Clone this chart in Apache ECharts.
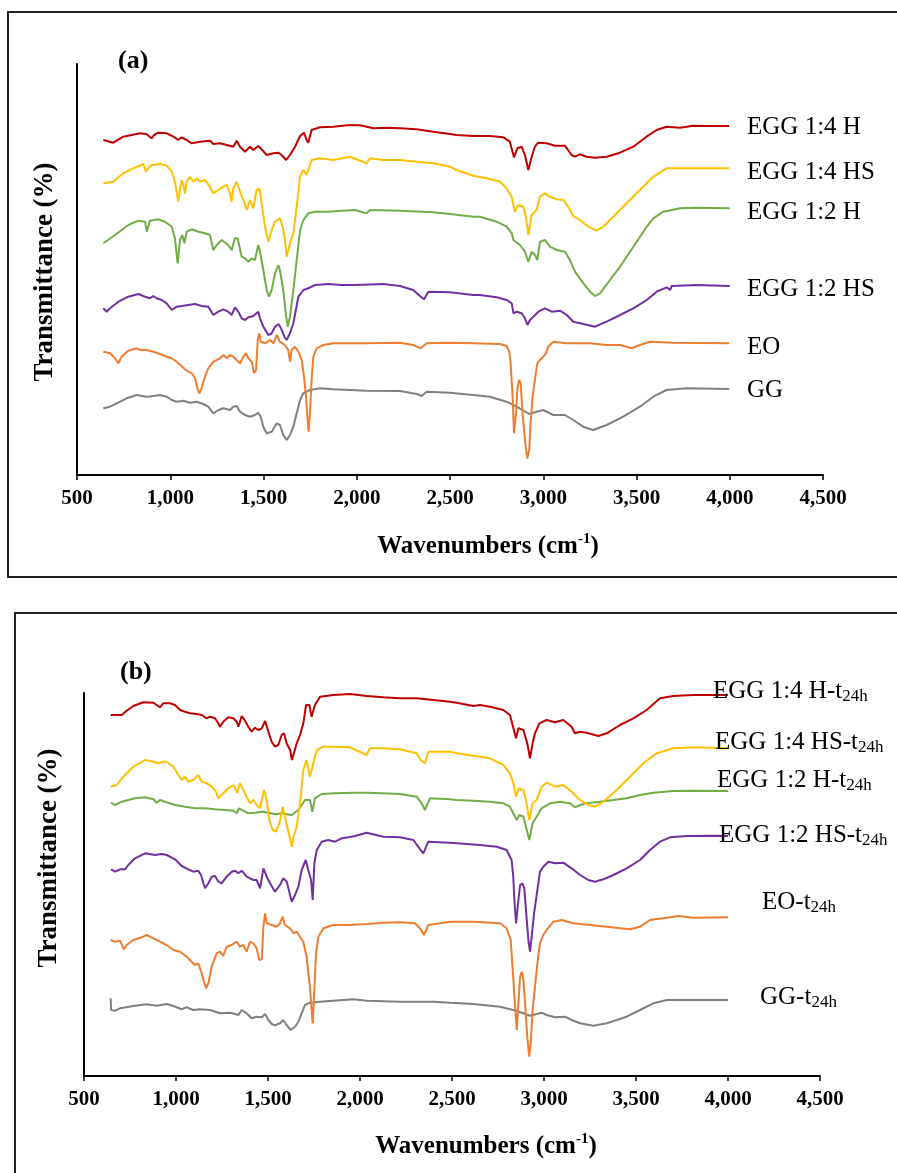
<!DOCTYPE html>
<html><head><meta charset="utf-8">
<script src="https://cdn.jsdelivr.net/npm/echarts@6/dist/echarts.min.js"></script>
<style>html,body{margin:0;padding:0;background:#fff}#c{width:897px;height:1173px}</style>
</head><body><div id="c"></div>
<script>
// ---- axis settings ----
const xMin = 500, xMax = 4500, xStep = 500;
const yMaxA = 411, yMaxB = 383;
const xTitle = 'Wavenumbers (cm';
const xTitleSup = '-1';
const yTitle = 'Transmittance (%)';
const panelTags = ['(a)', '(b)'];

// ---- series names ----
const namesA = ['EGG 1:4 H', 'EGG 1:4 HS', 'EGG 1:2 H', 'EGG 1:2 HS', 'EO', 'GG'];
const namesB = ['EGG 1:4 H-t', 'EGG 1:4 HS-t', 'EGG 1:2 H-t', 'EGG 1:2 HS-t', 'EO-t', 'GG-t'];
const subB = '24h';
const colors = ['#C00000', '#FFC000', '#70AD47', '#7030A0', '#ED7D31', '#808080'];

// ---- panel (a) data: [wavenumber, transmittance (offset, a.u.)] ----
const a_EGG14H = [[641,335],[695,332.3],[748,338.3],[838,341.7],[873,340.7],[900,336.7],[913,340],[936,342.3],[981,341.7],[1017,338.3],[1043,335],[1061,337.7],[1088,335],[1115,331.7],[1160,333.3],[1213,334.3],[1231,331],[1267,331.7],[1303,330],[1338,328.3],[1356,334.3],[1374,328.3],[1401,323.3],[1428,328.3],[1445,325],[1472,329],[1490,325.7],[1517,320],[1553,321.7],[1580,322.3],[1597,320],[1621,315],[1642,320],[1669,328.3],[1696,339],[1717,342.3],[1731,335],[1740,332.3],[1758,345],[1803,347.7],[1874,348.3],[1964,350],[2017,349.7],[2089,346.7],[2160,347.3],[2232,346.7],[2321,345.7],[2411,343.3],[2500,341],[2535,340],[2625,339],[2714,339],[2786,337.7],[2821,333.3],[2843,317.7],[2861,326.7],[2884,328.3],[2902,320],[2920,305],[2938,318.3],[2955,328.3],[2973,332.3],[3018,331.7],[3063,329.3],[3116,329.3],[3152,320],[3170,318.3],[3197,320.7],[3232,318.3],[3277,317.3],[3340,318.3],[3411,322.3],[3483,328.3],[3554,338.3],[3608,345],[3661,348.3],[3733,347.3],[3804,349.3],[3876,349],[3997,349]];
const a_EGG14HS = [[641,291.7],[695,293.3],[748,301.7],[802,306.7],[856,311],[870,303.3],[882,306.7],[900,310],[945,311],[981,309.3],[1008,303.3],[1025,293.3],[1034,283.3],[1043,273.3],[1052,285],[1061,295],[1070,290],[1079,281.7],[1088,293.3],[1106,298.3],[1124,293.3],[1142,296.7],[1160,293.3],[1186,295],[1213,288.3],[1231,281.7],[1258,285],[1285,288.3],[1303,290],[1320,281.7],[1329,273.3],[1338,286.7],[1356,293.3],[1374,283.3],[1392,275],[1410,265],[1428,275],[1445,266.7],[1463,285],[1478,286.7],[1490,271.7],[1508,248.3],[1526,233.3],[1544,245],[1562,253.3],[1588,256.7],[1603,248.3],[1615,235],[1624,218.3],[1642,231.7],[1660,241.7],[1678,268.3],[1696,298.3],[1713,305],[1731,300],[1758,315],[1803,316.7],[1874,315],[1964,318.3],[2053,311.7],[2071,316.7],[2143,315],[2232,315],[2321,313.3],[2411,311.7],[2500,308.3],[2535,305],[2625,299.3],[2696,296.7],[2768,293.3],[2803,286.7],[2830,278.3],[2848,263.3],[2866,270],[2893,268.3],[2907,258.3],[2920,240],[2938,260],[2964,265],[2982,278.3],[3009,281.7],[3036,278.3],[3072,275.7],[3107,275],[3134,268.3],[3161,259],[3197,255],[3241,248.3],[3286,244.3],[3322,248.3],[3375,258.3],[3447,271.7],[3518,285],[3590,298.3],[3661,306.7],[3733,306.7],[3876,306.7],[3997,306.7]];
const a_EGG12H = [[641,231.7],[704,240],[775,250],[829,254.3],[865,253.3],[874,243.3],[891,254.3],[936,255.7],[972,253.3],[1008,248.3],[1025,236.7],[1040,211.7],[1052,235],[1065,240],[1076,231.7],[1088,243.3],[1115,245.7],[1151,243.3],[1186,241.7],[1213,240],[1231,225],[1249,230],[1276,235],[1311,230],[1329,225],[1347,236.7],[1361,236.7],[1383,218.3],[1401,216.7],[1419,213.3],[1437,216.7],[1454,215],[1472,230],[1481,223.3],[1499,205],[1517,185],[1529,178.3],[1544,185],[1562,201.7],[1580,210],[1588,205],[1606,185],[1619,161.7],[1630,148.3],[1642,158.3],[1660,185],[1678,215],[1696,245],[1714,255],[1740,261.7],[1776,263.3],[1848,263.3],[1919,264.3],[1991,265],[2053,261.7],[2071,265],[2232,264.3],[2411,262.7],[2500,261],[2625,258.3],[2661,258.3],[2750,253.3],[2804,248.3],[2831,241.7],[2840,235],[2875,230],[2902,223.3],[2920,213.3],[2938,223.3],[2956,220],[2968,215],[2983,233.3],[3009,235],[3036,228.3],[3072,225],[3117,223.3],[3143,215],[3170,203.3],[3215,191.7],[3251,183.3],[3278,179],[3304,181.7],[3358,195],[3412,208.3],[3465,223.3],[3519,238.3],[3555,248.3],[3590,256.7],[3644,263.3],[3733,266.7],[3823,267.3],[4000,266.7]];
const a_EGG12HS = [[641,166.7],[659,163.3],[677,166.7],[722,173.3],[775,178.3],[829,181],[865,178.3],[891,176.7],[909,179],[927,176.7],[954,175],[981,171.7],[1008,165],[1034,168.3],[1061,169],[1097,170],[1133,171],[1168,169],[1204,168.3],[1231,160],[1258,163.3],[1285,165.7],[1311,163.3],[1329,160],[1347,167.7],[1365,163.3],[1383,156.7],[1401,155],[1419,157.7],[1445,159],[1472,163.3],[1481,156.7],[1499,148.3],[1526,140],[1544,141.7],[1562,148.3],[1580,151],[1594,146.7],[1612,138.3],[1624,135],[1642,141.7],[1660,151.7],[1687,178.3],[1714,185],[1740,186.7],[1776,190],[1848,191],[1919,190],[1991,190],[2143,191],[2232,189],[2303,185],[2343,178.3],[2361,175.7],[2384,183.3],[2500,182.7],[2625,180],[2661,180],[2750,177.7],[2804,175],[2831,171.7],[2840,161.7],[2858,163.3],[2884,161.7],[2902,156.7],[2915,150],[2929,155],[2947,158.3],[2974,163.3],[3009,166.7],[3045,163.3],[3090,164.3],[3126,160],[3161,153.3],[3215,151],[3278,148.3],[3340,153.3],[3412,160],[3483,166.7],[3555,175],[3608,183.3],[3662,187.7],[3680,185],[3689,189],[3823,190],[4000,189]];
const a_EO = [[641,123.3],[677,121.7],[704,116.7],[722,111.7],[739,118.3],[775,124.3],[820,126.7],[838,125],[873,125],[909,123.3],[945,121],[981,118.3],[1008,116.7],[1034,113.3],[1061,109],[1079,105.7],[1097,103.3],[1115,101.7],[1133,96.7],[1145,86.7],[1156,81.7],[1168,86.7],[1186,98.3],[1204,106.7],[1231,113.3],[1267,116.7],[1285,120],[1303,116.7],[1320,120],[1338,118.3],[1356,115],[1374,111.7],[1392,118.3],[1406,121.7],[1419,116.7],[1437,113.3],[1449,101.7],[1460,105],[1469,135],[1478,141.7],[1485,133.3],[1508,131.7],[1535,135],[1553,131.7],[1571,140],[1588,133.3],[1615,130],[1633,125],[1642,113.3],[1651,125],[1669,128.3],[1687,123.3],[1705,115],[1717,98.3],[1728,78.3],[1735,58.3],[1742,43.3],[1749,61.7],[1758,95],[1767,118.3],[1785,126.7],[1821,130],[1874,131.7],[2053,131.7],[2232,132.3],[2303,130],[2343,126.7],[2375,131.7],[2500,132.3],[2625,131.7],[2768,131],[2803,129],[2818,123.3],[2825,111.7],[2836,78.3],[2843,41.7],[2854,61.7],[2861,85],[2870,95],[2879,91.7],[2889,61.7],[2902,35],[2914,16.7],[2925,25],[2932,51.7],[2943,78.3],[2955,95],[2968,111.7],[2982,115],[3000,118.3],[3014,121.7],[3027,128.3],[3054,133.3],[3125,131.7],[3250,131.7],[3340,130],[3411,130],[3474,126.7],[3518,130],[3572,133.3],[3697,132.3],[3997,131.7]];
const a_GG = [[641,66.7],[677,68.3],[713,71.7],[766,76.7],[820,80],[873,78.3],[909,79],[945,80],[981,78.3],[1008,75],[1034,73.3],[1070,74.3],[1106,72.3],[1142,73.3],[1177,71],[1204,68.3],[1231,61.7],[1258,65],[1285,66.7],[1320,65],[1338,68.3],[1356,69],[1374,63.3],[1401,60],[1428,58.3],[1454,60],[1472,62.3],[1485,58.3],[1499,48.3],[1517,41.7],[1544,43.3],[1571,51.7],[1588,50],[1606,40],[1624,35],[1642,40],[1660,48.3],[1678,61.7],[1696,75],[1713,81.7],[1749,85],[1803,86.7],[1874,85.7],[2053,84.3],[2232,84],[2321,81],[2348,79],[2375,83.3],[2500,82.3],[2625,80],[2714,78.3],[2803,73.3],[2857,68.3],[2925,61],[2964,63.3],[3000,65],[3054,60],[3116,60],[3161,55],[3214,48.3],[3268,45],[3340,50],[3429,58.3],[3518,68.3],[3590,78.3],[3661,85],[3768,86.7],[3997,86]];

// ---- panel (b) data ----
const b_EGG14H = [[645,361],[705,361],[732,365.3],[768,370],[822,373.7],[877,373.3],[895,371],[913,368.7],[931,372.7],[967,372.7],[995,371],[1022,366],[1049,364.3],[1076,362.7],[1112,362],[1140,361],[1167,357.7],[1185,359.3],[1212,357.7],[1230,352.7],[1239,349.3],[1257,354.3],[1284,358.7],[1312,357.7],[1330,354.3],[1339,349.3],[1357,360],[1375,355.3],[1393,349.3],[1411,344.3],[1429,348.3],[1447,346],[1466,347.7],[1484,355],[1502,344.3],[1520,334.3],[1538,329.3],[1556,331],[1574,341],[1587,342.7],[1601,332.7],[1620,326],[1630,316],[1643,324.3],[1656,332.7],[1674,341],[1692,352.7],[1707,371],[1725,371],[1737,359.3],[1755,371],[1783,379.3],[1855,381],[1946,382],[2036,380],[2127,378.7],[2217,377.7],[2308,377.7],[2399,376],[2489,374.3],[2525,373.3],[2616,370],[2652,371],[2707,369.3],[2779,366],[2815,361],[2848,337.7],[2861,347.7],[2888,346],[2909,332.7],[2924,317.7],[2938,332.7],[2951,342.7],[2975,352.7],[3014,356],[3060,353.7],[3105,356],[3150,349.3],[3168,342.7],[3196,344.3],[3232,343.3],[3295,340],[3341,342.7],[3413,351],[3486,357.7],[3558,366],[3630,377.7],[3703,380],[3812,381],[4000,381]];
const b_EGG14HS = [[645,289.3],[678,291],[714,299.3],[768,309.3],[832,316],[877,314.3],[904,312.7],[931,314.3],[949,314.3],[986,309.3],[1013,301],[1031,296],[1049,299.3],[1067,294.3],[1094,296],[1121,301],[1140,294.3],[1167,292.7],[1194,289.3],[1217,284.3],[1230,277.7],[1257,282.7],[1284,287.7],[1312,291],[1333,283.3],[1348,292.7],[1366,286],[1384,279.3],[1402,272.7],[1420,276],[1438,271],[1457,267.7],[1478,286],[1493,276],[1507,256],[1525,246],[1543,244.3],[1562,252.7],[1580,269.3],[1592,259.3],[1611,244.3],[1629,229.3],[1641,241],[1656,249.3],[1674,272.7],[1692,306],[1710,316],[1728,299.3],[1746,312.7],[1765,326],[1801,329.3],[1855,329.3],[1946,328.7],[2036,321],[2054,327.7],[2127,327.7],[2217,326.7],[2308,322.7],[2330,316],[2353,312.7],[2371,324.3],[2489,324.3],[2525,322.7],[2616,320.3],[2707,317.7],[2779,311],[2815,302.7],[2833,292.7],[2848,279.3],[2861,287.7],[2888,286],[2902,276],[2920,256],[2938,272.7],[2960,276],[2987,289.3],[3015,293.3],[3060,289.3],[3105,291],[3150,284.3],[3196,276],[3241,271],[3277,269.3],[3323,274.3],[3395,286],[3467,299.3],[3540,312.7],[3612,322.7],[3703,327.7],[3812,328.7],[4000,327.7]];
const b_EGG12H = [[647,273.3],[669,271],[705,274.3],[777,277.7],[832,278.7],[877,276.7],[895,273.3],[913,276],[940,274.3],[995,271],[1049,269.3],[1103,267.7],[1158,267.7],[1212,266.7],[1266,266],[1312,265.3],[1330,262.7],[1342,267.7],[1366,265.3],[1393,262.7],[1429,263.3],[1466,264.3],[1502,263.3],[1538,261.7],[1574,262.7],[1601,261.7],[1629,261],[1665,266],[1701,276],[1728,276],[1741,264.3],[1755,277.7],[1792,282],[1864,282.7],[1973,283.3],[2036,283.3],[2127,282.7],[2217,282],[2308,279.3],[2335,272.7],[2353,266],[2380,277.7],[2489,276.7],[2525,276],[2616,275.3],[2707,274.3],[2779,272.7],[2815,269.3],[2833,262.7],[2852,256],[2866,261],[2888,259.3],[2902,249.3],[2920,236],[2938,252.7],[2960,259.3],[2987,267.7],[3033,272.7],[3087,274.3],[3141,272.7],[3168,268.7],[3196,271],[3232,272.7],[3304,274.3],[3377,276],[3449,277.7],[3522,281],[3594,283.3],[3703,285],[3812,285.3],[4000,285]];
const b_EGG12HS = [[647,206.7],[669,204.3],[696,206.7],[723,206.7],[741,211],[777,217.7],[832,222.7],[886,221],[922,222],[949,221],[995,216.7],[1031,210],[1067,206.7],[1094,204.3],[1121,205.3],[1136,201],[1149,192.7],[1158,187.7],[1176,192.7],[1194,199.3],[1212,200],[1230,194.3],[1248,192.7],[1275,199.3],[1303,204.3],[1321,205.3],[1339,202.7],[1357,205.3],[1384,199.3],[1420,196],[1438,196],[1457,187.7],[1475,207.7],[1493,199.3],[1511,192.7],[1538,184.3],[1565,191],[1583,197.7],[1602,194.3],[1620,181],[1629,174.3],[1647,181],[1665,189.3],[1683,206],[1705,216],[1719,206],[1734,196],[1743,176],[1752,212.7],[1765,226],[1792,234.3],[1828,236],[1864,234.3],[1900,237.7],[1937,238.7],[1973,240],[2036,243.3],[2127,239.3],[2217,238.7],[2290,236],[2323,227.7],[2344,222.7],[2371,234.3],[2489,233.3],[2652,231],[2743,229.3],[2797,226],[2824,216],[2833,199.3],[2839,176],[2848,152.7],[2861,176],[2870,191],[2882,192.7],[2893,187.7],[2902,166],[2915,136],[2924,124.3],[2933,139.3],[2946,162.7],[2964,186],[2978,204.3],[2996,209.3],[3024,214.3],[3060,212.7],[3105,213.3],[3150,207.7],[3196,201],[3241,196],[3277,194.3],[3322,196.7],[3377,201],[3449,207.7],[3522,216],[3576,226],[3630,234.3],[3685,238.7],[3775,240],[3920,240.3],[4000,240]];
const b_EO = [[645,136],[669,134.3],[696,135.3],[717,126.7],[732,131],[768,136],[822,139.3],[841,141],[877,137.7],[913,134.3],[949,131],[986,126],[1022,124.3],[1058,119.3],[1085,114.3],[1103,111],[1121,112.7],[1140,102.7],[1152,94.3],[1163,87.7],[1176,92.7],[1194,109.3],[1221,122.7],[1239,124.3],[1257,120],[1275,129.3],[1303,131],[1330,134.3],[1348,129.3],[1366,131],[1384,124.3],[1402,134.3],[1420,132.7],[1438,127.7],[1453,116],[1466,116.7],[1475,149.3],[1484,162.7],[1493,152.7],[1520,151],[1547,149.3],[1565,152.7],[1580,159.3],[1592,151],[1620,147.7],[1638,142.7],[1656,144.3],[1674,139.3],[1692,134.3],[1710,119.3],[1719,102.7],[1728,89.3],[1737,66],[1743,52.7],[1750,79.3],[1761,122.7],[1774,139.3],[1801,147.7],[1855,151],[1946,151],[2036,152],[2127,153.3],[2217,153.7],[2299,152.7],[2330,146.7],[2348,141],[2371,151],[2489,154.3],[2616,154.3],[2761,152.7],[2797,147.7],[2819,136],[2830,106],[2842,72.7],[2852,46],[2861,72.7],[2870,99.3],[2879,104.3],[2888,96],[2897,72.7],[2909,39.3],[2920,19.3],[2929,36],[2938,66],[2951,89.3],[2964,112.7],[2978,132.7],[2996,141],[3014,146],[3051,154.3],[3096,156],[3159,152.7],[3250,151],[3341,149.3],[3413,147.7],[3467,146.7],[3522,149.3],[3576,156],[3667,158.3],[3730,160],[3812,158.3],[4000,158.7]];
const b_GG = [[645,77.7],[647,66],[669,65.3],[696,67.7],[768,70],[841,71.7],[895,70.3],[949,72],[986,70],[1031,66.7],[1058,68.7],[1094,66],[1130,66.7],[1185,66],[1239,62.7],[1294,63.3],[1321,62],[1339,61],[1357,66],[1384,62.7],[1411,57.7],[1438,59.3],[1466,58.7],[1484,62],[1502,56],[1520,52],[1538,50.7],[1565,52.7],[1583,56],[1601,51],[1623,46],[1647,49.3],[1665,54.3],[1683,62.7],[1701,71],[1728,73.3],[1783,74.3],[1855,75.3],[1964,76.7],[2036,75.3],[2217,74.3],[2399,74.3],[2489,73.3],[2616,72],[2761,69.3],[2833,66],[2888,62.7],[2924,60.3],[2960,62],[2987,63.3],[3014,61],[3060,58.7],[3114,59.3],[3150,56],[3196,52.7],[3268,50.3],[3341,52.7],[3449,59.3],[3522,66],[3594,72.7],[3667,76],[3812,76],[4000,76]];

const dataA = [a_EGG14H, a_EGG14HS, a_EGG12H, a_EGG12HS, a_EO, a_GG];
const dataB = [b_EGG14H, b_EGG14HS, b_EGG12H, b_EGG12HS, b_EO, b_GG];

// ---- layout / style (not data) ----
const SERIF = '"Liberation Serif", "Times New Roman", serif';
const labelPosA = [[747,127],[747,172],[747,212],[747,289],[747,347],[747,390]];
const labelPosB = [[713,691],[715,742],[717,780],[719,835],[762,902],[760,997]];

const chart = echarts.init(document.getElementById('c'), null, {renderer: 'canvas'});

function xAxisCfg(gi) {
  return {
    type: 'value', gridIndex: gi, min: xMin, max: xMax, interval: xStep,
    axisLine: {show: true, onZero: false, lineStyle: {color: '#000', width: 2}},
    axisTick: {show: true, length: 5, lineStyle: {color: '#000', width: 1.5}},
    axisLabel: {show: true, margin: 13, showMinLabel: true, showMaxLabel: true,
      fontFamily: SERIF, fontWeight: 'bold', fontSize: 21, color: '#000',
      formatter: v => v.toLocaleString('en-US')},
    splitLine: {show: false}
  };
}
function yAxisCfg(gi, maxV) {
  return {
    type: 'value', gridIndex: gi, min: 0, max: maxV,
    axisLine: {show: true, lineStyle: {color: '#000', width: 2}},
    axisTick: {show: false}, axisLabel: {show: false}, splitLine: {show: false}
  };
}

const series = [];
[dataA, dataB].forEach((set, gi) => {
  set.forEach((d, i) => {
    series.push({
      type: 'line', name: (gi === 0 ? namesA : namesB)[i],
      xAxisIndex: gi, yAxisIndex: gi, data: d,
      showSymbol: false, symbol: 'none', silent: true,
      lineStyle: {color: colors[i], width: 2},
      z: 10 - i
    });
  });
});

const graphics = [];
graphics.push({type: 'rect', shape: {x: 8, y: 12, width: 900, height: 565},
  style: {fill: 'none', stroke: '#222', lineWidth: 2}, z: 100, silent: true});
graphics.push({type: 'rect', shape: {x: 15, y: 613, width: 900, height: 620},
  style: {fill: 'none', stroke: '#222', lineWidth: 2}, z: 100, silent: true});

// panel tags
[[118, 61], [120, 672]].forEach((p, k) => graphics.push({
  type: 'text', x: p[0], y: p[1], z: 100, silent: true,
  style: {text: panelTags[k], fill: '#000', font: 'bold 26px ' + SERIF, align: 'left', verticalAlign: 'middle'}
}));
// y titles
[[45, 272], [49, 858]].forEach(p => graphics.push({
  type: 'text', x: p[0], y: p[1], rotation: Math.PI / 2, z: 100, silent: true,
  style: {text: yTitle, fill: '#000', font: 'bold 27px ' + SERIF, align: 'center', verticalAlign: 'middle'}
}));
// x titles
[[488, 547], [486, 1147]].forEach(p => graphics.push({
  type: 'text', x: p[0], y: p[1], z: 100, silent: true,
  style: {
    text: '{m|' + xTitle + '}{s|' + xTitleSup + '}{m|)}', align: 'center', verticalAlign: 'middle',
    rich: {
      m: {fontFamily: SERIF, fontWeight: 'bold', fontSize: 25, fill: '#000', lineHeight: 30},
      s: {fontFamily: SERIF, fontWeight: 'bold', fontSize: 15, fill: '#000', verticalAlign: 'top', lineHeight: 18}
    }
  }
}));
// series labels panel a
namesA.forEach((n, i) => graphics.push({
  type: 'text', x: labelPosA[i][0], y: labelPosA[i][1], z: 100, silent: true,
  style: {text: n, fill: '#000', font: '25px ' + SERIF, align: 'left', verticalAlign: 'middle'}
}));
// series labels panel b (with subscript)
namesB.forEach((n, i) => graphics.push({
  type: 'text', x: labelPosB[i][0], y: labelPosB[i][1], z: 100, silent: true,
  style: {
    text: '{m|' + n + '}{s|' + subB + '}', align: 'left', verticalAlign: 'middle',
    rich: {
      m: {fontFamily: SERIF, fontSize: 25, fill: '#000', lineHeight: 28},
      s: {fontFamily: SERIF, fontSize: 17, fill: '#000', verticalAlign: 'bottom', lineHeight: 22}
    }
  }
}));

chart.setOption({
  animation: false,
  backgroundColor: '#fff',
  grid: [
    {left: 77, top: 64, width: 746, height: 411, containLabel: false},
    {left: 84, top: 693, width: 736, height: 383, containLabel: false}
  ],
  xAxis: [xAxisCfg(0), xAxisCfg(1)],
  yAxis: [yAxisCfg(0, yMaxA), yAxisCfg(1, yMaxB)],
  series: series,
  graphic: graphics
});
</script>
</body></html>
